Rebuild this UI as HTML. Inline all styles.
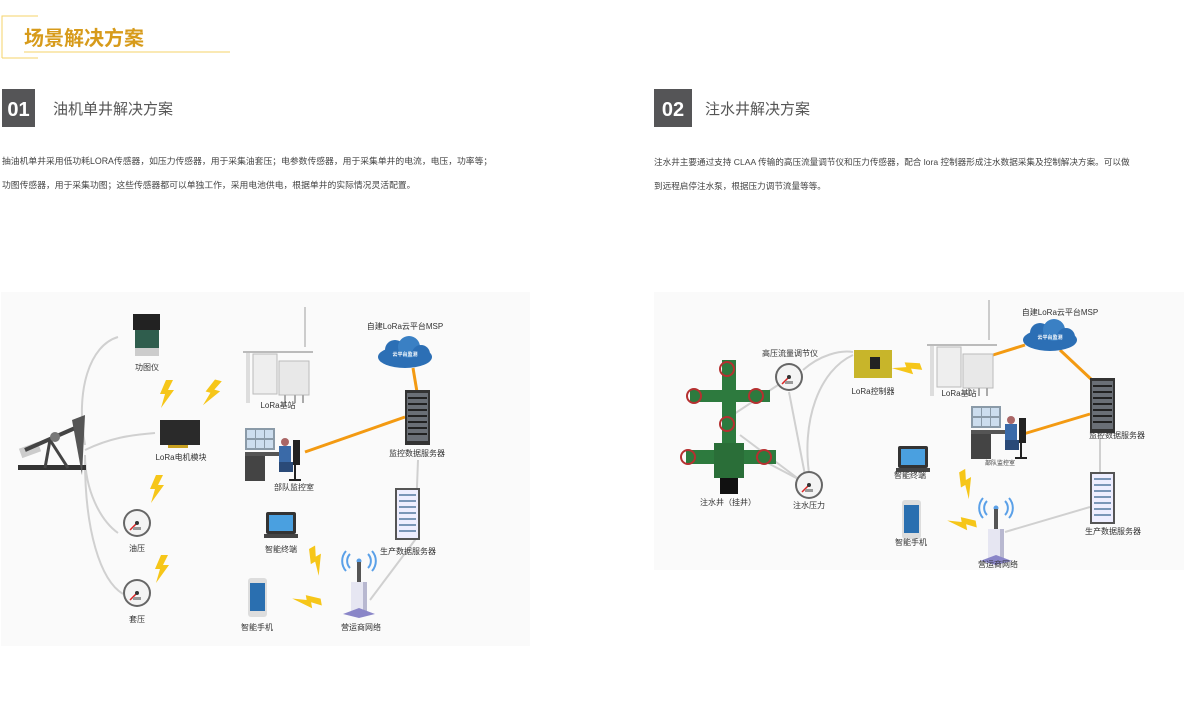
<!DOCTYPE html>
<html><head><meta charset="utf-8"><style>
html,body{margin:0;padding:0;background:#fff;width:1188px;height:702px;overflow:hidden}
svg{display:block}
text{font-family:"Liberation Sans","Noto Sans CJK SC",sans-serif}
</style></head><body>
<svg width="1188" height="702" viewBox="0 0 1188 702" xmlns="http://www.w3.org/2000/svg">
<defs>
<g id="bolt"><polygon points="6,0 0,14 5,14 1,28 14,10 8,10 13,0" fill="#f6c619"/></g>
<g id="gauge"><circle cx="0" cy="0" r="14" fill="#666"/><circle cx="0" cy="0" r="12" fill="#f4f4f4"/><line x1="0" y1="0" x2="-7" y2="7" stroke="#d22" stroke-width="1.5"/><circle r="2" fill="#333"/><rect x="-4" y="4" width="8" height="3" fill="#999"/></g>
<g id="server"><rect x="0" y="0" width="25" height="55" fill="#333"/><rect x="2" y="3" width="21" height="48" fill="#6a6f76"/>
<g stroke="#222" stroke-width="2"><line x1="3" y1="8" x2="22" y2="8"/><line x1="3" y1="14" x2="22" y2="14"/><line x1="3" y1="20" x2="22" y2="20"/><line x1="3" y1="26" x2="22" y2="26"/><line x1="3" y1="32" x2="22" y2="32"/><line x1="3" y1="38" x2="22" y2="38"/><line x1="3" y1="44" x2="22" y2="44"/></g></g>
<g id="server2"><rect x="0" y="0" width="25" height="52" fill="#555"/><rect x="2" y="2" width="21" height="48" fill="#eef"/>
<g stroke="#7a96b8" stroke-width="2"><line x1="4" y1="7" x2="21" y2="7"/><line x1="4" y1="13" x2="21" y2="13"/><line x1="4" y1="19" x2="21" y2="19"/><line x1="4" y1="25" x2="21" y2="25"/><line x1="4" y1="31" x2="21" y2="31"/><line x1="4" y1="37" x2="21" y2="37"/><line x1="4" y1="43" x2="21" y2="43"/></g></g>
<g id="cloud"><ellipse cx="28" cy="20" rx="27" ry="11" fill="#2c6fb5"/><circle cx="18" cy="13" r="10" fill="#2c6fb5"/><circle cx="32" cy="10" r="11" fill="#3a80c4"/><circle cx="44" cy="17" r="9" fill="#2c6fb5"/><text x="28" y="19" font-size="5" fill="#fff" text-anchor="middle" font-weight="bold">云平台监测</text></g>
<g id="station"><line x1="62" y1="0" x2="62" y2="40" stroke="#ccc" stroke-width="2"/><rect x="0" y="44" width="70" height="2" fill="#bbb"/><rect x="3" y="46" width="4" height="50" fill="#ddd"/><rect x="10" y="47" width="24" height="40" fill="#eee" stroke="#bbb"/><rect x="36" y="54" width="30" height="34" fill="#e8e8e8" stroke="#bbb"/><line x1="42" y1="88" x2="42" y2="96" stroke="#aaa" stroke-width="2"/><line x1="52" y1="88" x2="52" y2="96" stroke="#aaa" stroke-width="2"/><line x1="60" y1="88" x2="60" y2="96" stroke="#aaa" stroke-width="2"/></g>
<g id="desk"><rect x="0" y="0" width="30" height="22" fill="#8a9aa8"/><rect x="2" y="2" width="8" height="8" fill="#cde"/><rect x="11" y="2" width="8" height="8" fill="#cde"/><rect x="20" y="2" width="8" height="8" fill="#cde"/><rect x="2" y="12" width="8" height="8" fill="#cde"/><rect x="11" y="12" width="8" height="8" fill="#cde"/><rect x="20" y="12" width="8" height="8" fill="#cde"/><rect x="0" y="24" width="38" height="4" fill="#555"/><rect x="0" y="28" width="20" height="25" fill="#444"/><circle cx="40" cy="14" r="4" fill="#a66"/><rect x="34" y="18" width="12" height="16" fill="#3a6aa8"/><rect x="34" y="34" width="14" height="10" fill="#2a4a78"/><rect x="48" y="12" width="7" height="25" fill="#222"/><line x1="50" y1="37" x2="50" y2="52" stroke="#222" stroke-width="2"/><line x1="44" y1="52" x2="56" y2="52" stroke="#222" stroke-width="2"/></g>
<g id="laptop"><rect x="2" y="0" width="30" height="22" rx="2" fill="#333"/><rect x="5" y="3" width="24" height="16" fill="#4aa0e0"/><rect x="0" y="22" width="34" height="4" fill="#444"/></g>
<g id="phone"><rect x="0" y="0" width="19" height="39" rx="3" fill="#ddd"/><rect x="2" y="5" width="15" height="28" fill="#2a6fb0"/></g>
<g id="tower"><path d="M7,4 a10,10 0 0 0 0,14 M3,1 a15,15 0 0 0 0,20 M25,4 a10,10 0 0 1 0,14 M29,1 a15,15 0 0 1 0,20" stroke="#5aa0e8" stroke-width="2" fill="none"/><circle cx="16" cy="11" r="2.5" fill="#5aa0e8"/><rect x="14" y="12" width="4" height="20" fill="#555"/><rect x="8" y="32" width="16" height="30" fill="#e6e6f2"/><rect x="20" y="32" width="4" height="30" fill="#b8b8d0"/><polygon points="0,64 16,58 32,64 16,68" fill="#8a86c8"/></g>
</defs>

<!-- header -->
<path d="M2,58 L2,16 L38,16 M2,58 L38,58" stroke="#f5d36a" stroke-width="1" fill="none"/>
<line x1="24" y1="52" x2="230" y2="52" stroke="#f5d36a"/>
<text x="24" y="45" font-size="20" font-weight="bold" fill="#d79b1b">场景解决方案</text>

<rect x="2" y="89" width="33" height="38" fill="#555557"/>
<text x="18.5" y="116" font-size="20" font-weight="bold" fill="#fff" text-anchor="middle">01</text>
<text x="53" y="114" font-size="15" fill="#555">油机单井解决方案</text>
<text x="2" y="164" font-size="8.8" fill="#444">抽油机单井采用低功耗LORA传感器，如压力传感器，用于采集油套压；电参数传感器，用于采集单井的电流，电压，功率等；</text>
<text x="2" y="188" font-size="8.8" fill="#444">功图传感器，用于采集功图；这些传感器都可以单独工作，采用电池供电，根据单井的实际情况灵活配置。</text>

<rect x="654" y="89" width="38" height="38" fill="#555557"/>
<text x="673" y="116" font-size="20" font-weight="bold" fill="#fff" text-anchor="middle">02</text>
<text x="705" y="114" font-size="15" fill="#555">注水井解决方案</text>
<text x="654" y="165" font-size="8.6" fill="#444">注水井主要通过支持 CLAA 传输的高压流量调节仪和压力传感器，配合 lora 控制器形成注水数据采集及控制解决方案。可以做</text>
<text x="654" y="189" font-size="8.6" fill="#444">到远程启停注水泵，根据压力调节流量等等。</text>

<!-- panel 1 -->
<rect x="1" y="292" width="529" height="354" fill="#fafafa"/>
<g stroke="#d0d0d0" stroke-width="2" fill="none">
<path d="M85,445 C75,390 90,345 118,337"/>
<path d="M85,450 C110,438 130,435 155,433"/>
<path d="M85,455 C85,490 100,520 118,533"/>
<path d="M85,460 C85,530 100,580 123,594"/>
<path d="M370,600 L415,540 L418,460"/>
</g>
<g stroke="#f39a12" stroke-width="3"><line x1="305" y1="452" x2="405" y2="417"/><line x1="413" y1="368" x2="417" y2="392"/></g>
<g><rect x="18" y="465" width="68" height="5" fill="#333"/><rect x="20" y="445" width="20" height="10" fill="#ccc" transform="rotate(-20 30 450)"/><line x1="25" y1="450" x2="82" y2="425" stroke="#444" stroke-width="4"/><polygon points="72,420 85,415 82,475" fill="#555"/><line x1="50" y1="440" x2="45" y2="468" stroke="#444" stroke-width="3"/><line x1="50" y1="440" x2="68" y2="468" stroke="#444" stroke-width="3"/><circle cx="55" cy="437" r="5" fill="#777"/></g>
<rect x="133" y="314" width="27" height="16" fill="#222"/><rect x="135" y="330" width="24" height="18" fill="#2f5d4d"/><rect x="135" y="348" width="24" height="8" fill="#ccc"/>
<text x="147" y="370" font-size="8" fill="#333" text-anchor="middle">功图仪</text>
<rect x="160" y="420" width="40" height="25" fill="#2a2a2a"/><rect x="168" y="445" width="20" height="3" fill="#c8a020"/>
<text x="181" y="460" font-size="8" fill="#333" text-anchor="middle">LoRa电机模块</text>
<use href="#station" x="243" y="307"/>
<text x="278" y="408" font-size="8" fill="#333" text-anchor="middle">LoRa基站</text>
<text x="405" y="329" font-size="8" fill="#333" text-anchor="middle">自建LoRa云平台MSP</text>
<use href="#cloud" x="377" y="337"/>
<use href="#server" x="405" y="390"/>
<text x="417" y="456" font-size="8" fill="#333" text-anchor="middle">监控数据服务器</text>
<use href="#desk" x="245" y="428"/>
<text x="294" y="490" font-size="8" fill="#333" text-anchor="middle">部队监控室</text>
<use href="#server2" x="395" y="488"/>
<text x="408" y="554" font-size="8" fill="#333" text-anchor="middle">生产数据服务器</text>
<use href="#laptop" x="264" y="512"/>
<text x="281" y="552" font-size="8" fill="#333" text-anchor="middle">智能终端</text>
<use href="#gauge" x="137" y="523"/>
<text x="137" y="551" font-size="8" fill="#333" text-anchor="middle">油压</text>
<use href="#gauge" x="137" y="593"/>
<text x="137" y="622" font-size="8" fill="#333" text-anchor="middle">套压</text>
<use href="#phone" x="248" y="578"/>
<text x="257" y="630" font-size="8" fill="#333" text-anchor="middle">智能手机</text>
<use href="#tower" x="343" y="550"/>
<text x="361" y="630" font-size="8" fill="#333" text-anchor="middle">营运商网络</text>
<use href="#bolt" x="160" y="380"/>
<use href="#bolt" x="205" y="380" transform="rotate(15 215 395)"/>
<use href="#bolt" x="150" y="475"/>
<use href="#bolt" x="155" y="555"/>
<use href="#bolt" x="310" y="545" transform="rotate(-30 320 560)"/>
<use href="#bolt" x="300" y="588" transform="rotate(80 307 602)"/>

<!-- panel 2 -->
<rect x="654" y="292" width="530" height="278" fill="#fafafa"/>
<g stroke="#d0d0d0" stroke-width="2" fill="none">
<path d="M803,370 C820,355 840,350 853,352"/>
<path d="M810,480 C800,420 820,370 853,355"/>
<line x1="789" y1="392" x2="805" y2="475"/>
<line x1="728" y1="418" x2="778" y2="385"/>
<line x1="740" y1="435" x2="800" y2="480"/>
<line x1="762" y1="460" x2="800" y2="480"/>
<line x1="1100" y1="425" x2="1100" y2="472"/>
<line x1="1090" y1="507" x2="1005" y2="532"/>
</g>
<g stroke="#f39a12" stroke-width="3"><line x1="993" y1="355" x2="1025" y2="345"/><line x1="1060" y1="350" x2="1092" y2="380"/><line x1="1020" y1="435" x2="1090" y2="414"/></g>
<g fill="#2d7a3e"><rect x="722" y="360" width="14" height="110"/><rect x="690" y="390" width="80" height="12"/><rect x="686" y="450" width="90" height="14"/><rect x="714" y="443" width="30" height="35" fill="#2a6e38"/></g>
<rect x="720" y="478" width="18" height="16" fill="#111"/>
<g fill="none" stroke="#b53030" stroke-width="2"><circle cx="727" cy="369" r="7"/><circle cx="694" cy="396" r="7"/><circle cx="756" cy="396" r="7"/><circle cx="727" cy="424" r="7"/><circle cx="688" cy="457" r="7"/><circle cx="764" cy="457" r="7"/></g>
<text x="728" y="505" font-size="8" fill="#333" text-anchor="middle">注水井（挂井）</text>
<text x="790" y="356" font-size="8" fill="#333" text-anchor="middle">高压流量调节仪</text>
<use href="#gauge" x="789" y="377"/>
<use href="#gauge" x="809" y="485"/>
<text x="809" y="508" font-size="8" fill="#333" text-anchor="middle">注水压力</text>
<rect x="854" y="350" width="38" height="28" fill="#c8b52a"/><rect x="870" y="357" width="10" height="12" fill="#222"/>
<text x="873" y="394" font-size="8" fill="#333" text-anchor="middle">LoRa控制器</text>
<use href="#station" x="927" y="300"/>
<text x="959" y="396" font-size="8" fill="#333" text-anchor="middle">LoRa基站</text>
<text x="1060" y="315" font-size="8" fill="#333" text-anchor="middle">自建LoRa云平台MSP</text>
<use href="#cloud" x="1022" y="320"/>
<use href="#server" x="1090" y="378"/>
<text x="1117" y="438" font-size="8" fill="#333" text-anchor="middle">监控数据服务器</text>
<use href="#desk" x="971" y="406"/>
<text x="1000" y="465" font-size="6" fill="#333" text-anchor="middle">部队监控室</text>
<use href="#server2" x="1090" y="472"/>
<text x="1113" y="534" font-size="8" fill="#333" text-anchor="middle">生产数据服务器</text>
<use href="#laptop" x="896" y="446"/>
<text x="910" y="478" font-size="8" fill="#333" text-anchor="middle">智能终端</text>
<use href="#phone" x="902" y="500"/>
<text x="911" y="545" font-size="8" fill="#333" text-anchor="middle">智能手机</text>
<use href="#tower" x="980" y="497"/>
<text x="998" y="567" font-size="8" fill="#333" text-anchor="middle">营运商网络</text>
<use href="#bolt" x="900" y="355" transform="rotate(70 907 369)"/>
<use href="#bolt" x="960" y="470" transform="rotate(-30 967 484)"/>
<use href="#bolt" x="955" y="510" transform="rotate(80 962 524)"/>
</svg>
</body></html>
